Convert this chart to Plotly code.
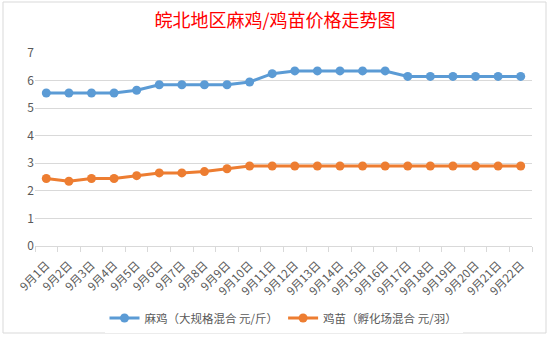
import plotly.graph_objects as go

dates = [f"9月{i}日" for i in range(1, 23)]
maji = [5.55, 5.55, 5.55, 5.55, 5.65, 5.85, 5.85, 5.85, 5.85, 5.95, 6.25,
        6.35, 6.35, 6.35, 6.35, 6.35, 6.15, 6.15, 6.15, 6.15, 6.15, 6.15]
jimiao = [2.45, 2.35, 2.45, 2.45, 2.55, 2.65, 2.65, 2.7, 2.8, 2.9, 2.9,
          2.9, 2.9, 2.9, 2.9, 2.9, 2.9, 2.9, 2.9, 2.9, 2.9, 2.9]
names = ["麻鸡（大规格混合 元/斤）", "鸡苗（孵化场混合 元/羽）"]
colors = ["#5B9BD5", "#ED7D31"]
title = "皖北地区麻鸡/鸡苗价格走势图"

W, H = 550, 337
L, R, T, B = 35, 18, 53, 91
pw, ph = W - L - R, H - T - B

def px_to_paper(x, y):
    return (x - L) / pw, (H - B - y) / ph

fig = go.Figure()
for name, vals, c in zip(names, [maji, jimiao], colors):
    fig.add_trace(go.Scatter(
        x=dates, y=vals, name=name, mode="lines+markers",
        line=dict(color=c, width=3),
        marker=dict(color=c, size=9),
    ))

x0, y0 = px_to_paper(3, 333)
x1, y1 = px_to_paper(546, 2)

fig.update_layout(
    width=W, height=H,
    margin=dict(l=L, r=R, t=T, b=B, autoexpand=False),
    paper_bgcolor="white", plot_bgcolor="white",
    font=dict(family="Noto Sans CJK SC, sans-serif", color="#595959", size=11),
    title=dict(text=title, x=0.5, xanchor="center", y=1 - 21 / H, yanchor="middle",
               font=dict(size=18, color="#FF0000", family="Noto Sans CJK SC")),
    xaxis=dict(
        type="category", tickangle=-45, tickson="boundaries",
        ticks="outside", ticklen=5, tickcolor="#d9d9d9",
        showline=True, linecolor="#d9d9d9", linewidth=1,
        showgrid=False, tickfont=dict(size=11.5, color="#595959"),
        range=[-0.5, len(dates) - 0.5], automargin=False,
        ticklabelstandoff=7,
    ),
    yaxis=dict(
        range=[0, 7], dtick=1, showgrid=True, gridcolor="#d9d9d9",
        zeroline=False, showline=False, ticks="", automargin=False,
        tickfont=dict(size=12, color="#595959"),
    ),
    legend=dict(orientation="h", x=0.5, xanchor="center",
                y=(H - B - 318) / ph, yanchor="middle",
                font=dict(size=11.5, color="#595959"), itemwidth=30),
    showlegend=True,
    shapes=[dict(type="rect", xref="paper", yref="paper",
                 x0=x0, y0=y0, x1=x1, y1=y1,
                 line=dict(color="#d9d9d9", width=1), layer="below")],
)

fig.write_html("out.html")
